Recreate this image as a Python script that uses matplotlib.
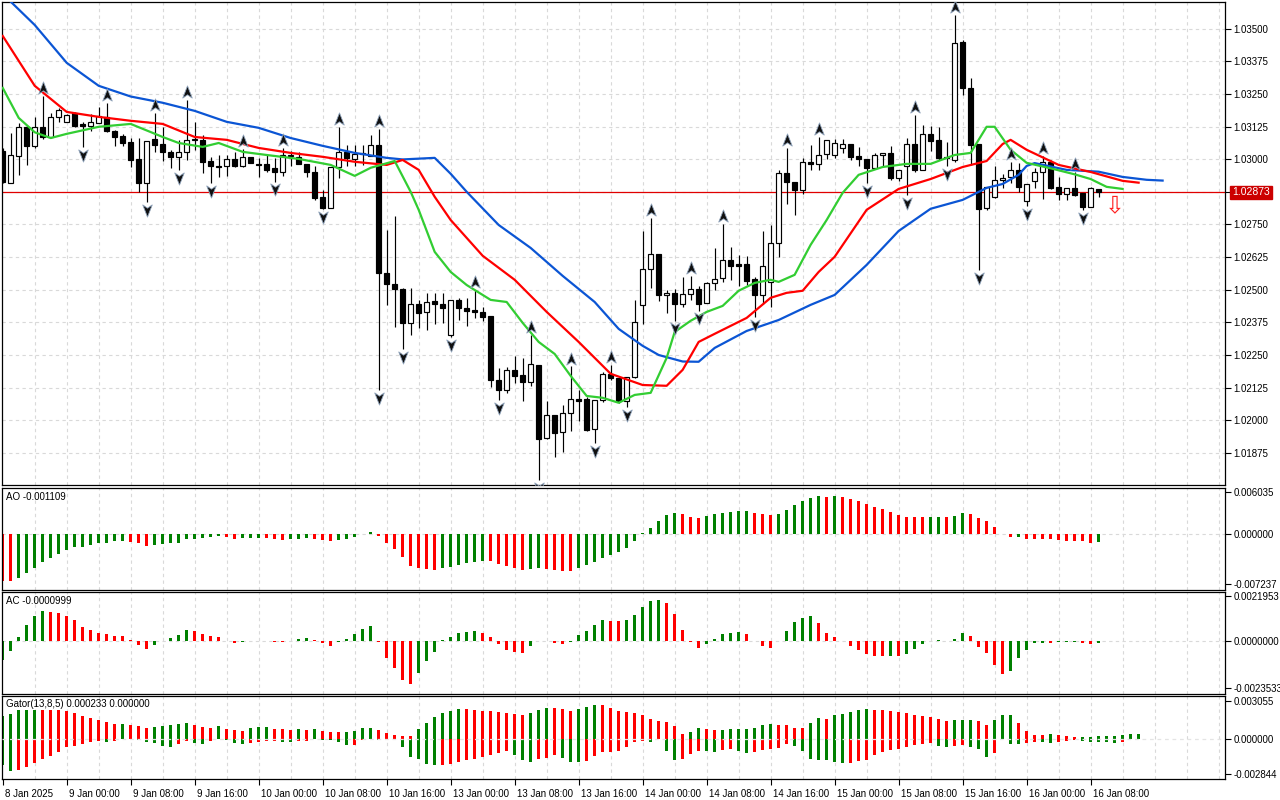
import numpy as np
import matplotlib
matplotlib.use("Agg")
import matplotlib.pyplot as plt
from matplotlib.path import Path
from matplotlib.transforms import blended_transform_factory, ScaledTranslation

plt.rcParams['font.family'] = ['Liberation Sans', 'DejaVu Sans']

# ---------------- data ----------------
time_tick_index = list(range(0, 137, 8))
time_tick_labels = ["8 Jan 2025", "9 Jan 00:00", "9 Jan 08:00", "9 Jan 16:00",
                    "10 Jan 00:00", "10 Jan 08:00", "10 Jan 16:00", "13 Jan 00:00",
                    "13 Jan 08:00", "13 Jan 16:00", "14 Jan 00:00", "14 Jan 08:00",
                    "14 Jan 16:00", "15 Jan 00:00", "15 Jan 08:00", "15 Jan 16:00",
                    "16 Jan 00:00", "16 Jan 08:00"]
price_ticks = [1.01875, 1.02000, 1.02125, 1.02250, 1.02375, 1.02500, 1.02625,
               1.02750, 1.02875, 1.03000, 1.03125, 1.03250, 1.03375, 1.03500]

# prices in points (1e-5)
open_pts = [103032,102910,103012,103124,103051,103124,103085,103162,103143,103177,
            103135,103127,103139,103162,103108,103089,103066,103001,102909,103078,
            103058,103028,103009,103028,103074,103074,102993,102974,102972,103001,
            102974,103010,102980,102982,102967,102952,103012,103010,102982,102952,
            102857,102813,102970,103029,103001,103020,103014,103055,102564,102522,
            102503,102373,102446,102415,102455,102446,102327,102461,102430,102423,
            102415,102400,102155,102116,102193,102174,102148,102212,101933,102021,
            101955,102028,102082,102082,101967,102078,102178,102162,102072,102167,
            102442,102580,102637,102480,102488,102446,102484,102503,102450,102526,
            102545,102614,102599,102599,102541,102480,102531,102679,102947,102913,
            102882,102991,102982,103020,103016,103043,103058,103012,103001,102968,
            103016,103024,102929,102972,103058,102959,103097,103074,103010,102995,
            103450,103273,103058,102813,102856,102921,102931,102959,102838,102917,
            102949,102991,102893,102866,102890,102871,102818,102886]
high_pts = [103043,103101,103139,103131,103162,103242,103177,103196,103173,103181,
            103143,103173,103200,103216,103112,103097,103081,103081,103070,103177,
            103124,103036,103074,103227,103143,103093,103010,103016,103016,103029,
            103039,103010,103003,103016,103005,103043,103032,103029,102982,102974,
            102882,102970,103124,103055,103055,103055,103093,103116,102729,102783,
            102507,102507,102461,102488,102488,102489,102461,102469,102469,102499,
            102435,102400,102201,102204,102247,102239,102327,102212,102072,102021,
            102059,102206,102116,102090,102078,102185,102212,102162,102167,102461,
            102725,102776,102637,102499,102503,102549,102554,102515,102531,102660,
            102752,102665,102633,102631,102550,102725,102746,102959,103043,102913,
            103005,103055,103085,103074,103078,103078,103058,103048,103001,103024,
            103024,103051,102959,103081,103170,103131,103127,103124,103064,103553,
            103457,103311,103058,102894,102972,102944,102991,102986,102905,102967,
            103012,102997,102933,102890,102952,102871,102893,102886]
low_pts = [102909,102909,102940,102978,103043,103078,103081,103143,103143,103124,
           103047,103108,103139,103104,103051,103051,102970,102875,102836,103028,
           102993,102967,102959,102997,103036,102947,102908,102933,102936,102970,
           102970,102987,102932,102952,102914,102936,102972,102982,102932,102844,
           102808,102813,102928,102972,102974,102978,103012,102116,102442,102358,
           102273,102327,102355,102346,102369,102373,102319,102384,102361,102392,
           102382,102128,102078,102105,102143,102072,102133,101772,101929,101860,
           101879,101960,101999,101960,101913,102070,102155,102066,102052,102162,
           102369,102507,102455,102411,102382,102435,102461,102420,102450,102497,
           102531,102538,102516,102518,102396,102446,102435,102627,102829,102787,
           102867,102959,102959,103001,103005,103024,102995,102972,102909,102963,
           102972,102921,102918,102863,102951,102959,103033,102997,102972,102990,
           103246,102978,102576,102806,102852,102890,102909,102876,102821,102890,
           102848,102886,102844,102844,102859,102806,102818,102856]
close_pts = [102913,103016,103124,103051,103124,103085,103162,103189,103170,103127,
             103127,103143,103166,103108,103085,103062,102997,102909,103070,103055,
             103028,103009,103028,103074,103078,102990,102972,102970,103001,102974,
             103010,102987,102976,102959,102952,103016,103016,102982,102949,102851,
             102812,102970,103029,103005,103020,103024,103055,102564,102522,102503,
             102373,102446,102412,102453,102446,102430,102461,102430,102420,102416,
             102397,102155,102114,102193,102170,102148,102216,101929,102021,101953,
             102028,102082,102075,101963,102078,102178,102162,102072,102167,102378,
             102580,102637,102480,102488,102446,102484,102503,102446,102526,102541,
             102614,102592,102592,102535,102480,102589,102679,102947,102913,102882,
             102991,102982,103016,103074,103062,103058,103010,103001,102968,103016,
             103024,102929,102959,103058,102959,103097,103071,103005,103005,103445,
             103273,103055,102810,102893,102921,102929,102959,102893,102905,102952,
             102991,102890,102866,102890,102863,102818,102889,102873]

# Alligator lines (points), read at the given bar indices
jaw_idx = [0,4,8,12,16,20,24,28,32,36,40,44,48,50,54,56,58,62,66,70,74,77,80,82,85,87,89,93,
           97,101,104,108,112,116,120,123,125,127,128,129,131,133,137,140,143,145]
jaw_pts = [103633,103514,103369,103281,103240,103216,103185,103143,103120,103081,103051,103024,
           103005,102999,103005,102944,102875,102748,102660,102553,102453,102350,102285,102250,
           102225,102224,102277,102342,102384,102442,102480,102595,102725,102810,102844,102890,
           102905,102940,102974,102985,102972,102959,102952,102932,102921,102918]
teeth_idx = [0,4,8,12,16,20,24,28,32,36,40,44,48,50,52,54,56,60,64,68,72,76,80,83,85,87,89,93,
             96,98,100,102,104,108,112,116,120,123,125,126,128,132,136,140,142]
teeth_pts = [103472,103281,103181,103162,103147,103135,103085,103074,103043,103024,103009,102990,
             102978,102997,102959,102856,102767,102630,102538,102415,102300,102178,102135,102132,
             102193,102300,102331,102392,102469,102488,102496,102568,102626,102806,102886,102924,
             102970,102993,103058,103074,103036,102978,102951,102917,102910]
lips_idx = [0,2,4,6,8,12,16,20,22,25,27,30,33,37,41,44,46,49,51,52,54,56,58,61,63,65,67,69,71,73,
            75,77,79,81,83,84,86,88,90,92,94,96,97,99,101,103,105,107,110,113,116,119,121,123,124,
            126,128,131,134,136,138,140]
lips_pts = [103273,103158,103103,103081,103097,103124,103135,103085,103062,103047,103062,103028,
            103016,103001,102978,102936,102967,102993,102875,102806,102645,102568,102518,102461,
            102453,102373,102300,102254,102170,102093,102086,102067,102097,102105,102239,102338,
            102381,102415,102438,102496,102526,102538,102530,102557,102672,102767,102871,102940,
            102970,102982,102982,103016,103024,103124,103124,103036,102986,102965,102942,102924,
            102894,102886]

up_fractals = [5,13,19,23,30,35,42,47,59,66,71,76,81,86,90,98,102,114,119,126,130,134]
down_fractals = [10,18,22,26,34,40,47,50,56,62,67,74,78,84,87,94,108,113,118,122,128,135]
signal_idx = 139
signal_price = 1.02823

# AO (1e-6)
ao_u = [-6760,-6800,-6280,-5600,-4830,-3960,-3380,-2800,-2220,-1840,
        -1820,-1500,-1350,-1210,-1060,-1040,-1110,-1350,-1640,-1500,
        -1480,-1350,-1210,-770,-630,-530,-480,-290,-480,-630,
        -610,-590,-570,-620,-770,-790,-760,-630,-610,-630,
        -870,-1010,-870,-770,-480,-50,340,-290,-1210,-2080,
        -3280,-4590,-4830,-4970,-5120,-4830,-4730,-4440,-4150,-4010,
        -3860,-3900,-4300,-4590,-4830,-5120,-4970,-4950,-4990,-5120,
        -5260,-5280,-4830,-4440,-3960,-3380,-2990,-2510,-1980,-1060,
        100,920,1930,2800,3090,2950,2510,2370,2660,2950,
        3090,3140,3330,3380,3090,2950,2800,2950,3530,4250,
        4830,5260,5550,5410,5560,5410,5120,4830,4400,3960,
        3670,3240,2800,2510,2500,2490,2510,2520,2500,2660,
        3090,2950,2370,1930,1060,30,-480,-460,-630,-640,
        -650,-770,-780,-920,-930,-1060,-1210,-1109]
# AC (1e-7)
ac_u = [-9400,-5000,2000,7900,12100,14600,14100,13600,12100,10100,
        6600,5500,4000,3500,2500,2400,500,-2000,-4000,-2000,
        -300,1500,3000,5500,5000,3500,2500,2000,-200,-1300,
        -800,-300,-100,-200,-400,-800,0,1000,1100,500,
        -1300,-2400,-800,1000,3500,6000,7100,-500,-8400,-13600,
        -19200,-21500,-16000,-9900,-5400,200,2000,4000,4500,4600,
        4000,2000,-1800,-4400,-5400,-5900,-2400,-200,-100,-1300,
        -1800,-800,3000,5000,7600,10100,9900,9600,10100,12600,
        16600,19700,20200,18600,13100,5500,-800,-3400,-1800,1000,
        3500,4000,4100,3500,-200,-2400,-3400,-200,5000,9100,
        11100,12100,8600,4000,2000,-300,-2400,-4400,-6400,-7400,
        -7500,-7400,-7600,-6400,-3900,-1800,-200,500,-200,1000,
        4000,2500,-2900,-5900,-11900,-16500,-15000,-8400,-4400,-1300,
        -1000,-1300,-800,-700,-600,-1300,-1800,-999]
# Gator (1e-6)
gator_up_u = [1782,1995,2314,2322,2330,2325,2314,2301,2234,2075,
              1782,1623,1463,1357,1197,1210,1117,984,878,931,
              984,1064,1144,1277,1091,931,878,984,798,665,
              585,825,904,918,745,732,665,745,665,745,
              638,559,505,519,585,825,838,665,426,266,
              186,173,745,1224,1702,2101,2261,2421,2407,2341,
              2261,2248,2181,2101,1942,1862,2022,2341,2500,2487,
              2421,2261,2421,2580,2740,2727,2500,2261,2181,2101,
              1862,1543,1383,1303,984,346,505,825,745,665,
              678,745,758,771,825,1064,1144,1131,1064,825,
              811,1224,1623,1596,1915,1995,2155,2341,2421,2341,
              2328,2261,2181,2022,1862,1782,1702,1543,1383,1463,
              1476,1490,1383,1064,1463,1862,1875,1224,585,266,
              253,346,266,186,106,120,133,186,200,213,
              266,346,359]
gator_down_u = [-2155,-2607,-2527,-2288,-1942,-1649,-1410,-1091,-665,-585,
                -426,-266,-213,-266,-239,-80,-27,-106,-266,-346,
                -585,-665,-426,-213,-346,-426,-213,-53,-133,-346,
                -426,-346,-266,-213,-200,-266,-279,-239,-186,-80,
                -93,-133,-266,-505,-492,-133,-80,-93,-27,-133,
                -665,-1463,-1623,-2022,-2181,-2101,-2022,-1862,-1702,-1623,
                -1463,-1303,-1144,-984,-1303,-1702,-1862,-1623,-1543,-1303,
                -1543,-1862,-1875,-1782,-1383,-1064,-1051,-984,-665,-266,
                -186,-266,-53,-984,-1702,-1623,-1224,-984,-998,-1064,
                -904,-825,-984,-1144,-1091,-958,-878,-745,-479,-612,
                -1011,-1623,-1702,-1756,-1862,-1968,-1942,-1782,-1702,-1303,
                -1064,-904,-825,-665,-505,-426,-399,-585,-665,-585,
                -505,-665,-825,-1463,-1144,-53,-426,-452,-346,-266,
                -293,-346,-266,-186,-160,-213,-266,-293,-319,-333,
                -266]

ao_scale = (-0.007237, 0.006035)
ac_scale = (-0.0023533, 0.0021953)
gator_scale = (-0.002844, 0.003055)

# ---------------- styling constants ----------------
W, H = 1280, 800
GREEN = '#008000'
RED = '#FF0000'
GRID = '#D9D9D9'
X0, X1 = -0.09, 152.8
FS = 7

o = np.array(open_pts) / 1e5
h = np.array(high_pts) / 1e5
l = np.array(low_pts) / 1e5
c = np.array(close_pts) / 1e5
n = len(o)
x = np.arange(n)

fig = plt.figure(figsize=(W / 100, H / 100), dpi=100)
fig.patch.set_facecolor('white')


def add_axes(top, bottom, left=2, right=1225):
    return fig.add_axes([left / W, 1 - bottom / H, (right - left) / W, (bottom - top) / H])


ax = add_axes(2, 485)
ax_ao = add_axes(488, 590)
ax_ac = add_axes(592, 694)
ax_gt = add_axes(696, 779)


def frame(a):
    a.set_xlim(X0, X1)
    for s in a.spines.values():
        s.set_linewidth(0.9)
        s.set_color('black')
    a.yaxis.tick_right()
    a.tick_params(axis='y', direction='out', length=4, width=0.8, pad=2, labelsize=FS, colors='black')
    a.tick_params(axis='x', direction='out', length=4, width=0.8, labelsize=FS)
    for gx in range(4, 153, 4):
        a.axvline(gx, color=GRID, lw=0.8, ls=(0, (3, 3)), zorder=0)


for a in (ax, ax_ao, ax_ac, ax_gt):
    frame(a)

# ---------------- main chart ----------------
ax.set_ylim(1.01752, 1.03602)
for p in price_ticks:
    ax.axhline(p, color=GRID, lw=0.8, ls=(0, (3, 3)), zorder=0)
ax.set_yticks(price_ticks)
# the tick label next to the last price is hidden behind the price box
ax.set_yticklabels(['' if abs(p - c[-1]) < 0.0003 else f'{p:.5f}' for p in price_ticks])
ax.set_xticks([])

ax.axhline(c[-1], color='#E00000', lw=0.9, zorder=2)

ax.vlines(x, l, h, color='black', lw=0.85, zorder=3)
bull = c >= o
ax.bar(x[bull], (c - o)[bull], bottom=o[bull], width=0.62, facecolor='white',
       edgecolor='black', linewidth=0.85, zorder=4)
ax.bar(x[~bull], (o - c)[~bull], bottom=c[~bull], width=0.62, facecolor='black',
       edgecolor='black', linewidth=0.85, zorder=4)

ax.plot(jaw_idx, np.array(jaw_pts) / 1e5, color='#0B55D4', lw=1.6, zorder=5)
ax.plot(teeth_idx, np.array(teeth_pts) / 1e5, color='#FF0000', lw=1.6, zorder=5)
ax.plot(lips_idx, np.array(lips_pts) / 1e5, color='#32CD32', lw=1.6, zorder=5)

verts = [(0, 1), (0.72, -0.85), (0, -0.35), (-0.72, -0.85), (0, 1)]
codes = [Path.MOVETO, Path.LINETO, Path.LINETO, Path.LINETO, Path.CLOSEPOLY]
up_marker = Path(verts, codes)
down_marker = Path([(vx, -vy) for vx, vy in verts], codes)
ax.plot(up_fractals, h[up_fractals] + 0.0003, ls='none', marker=up_marker, ms=9.5,
        mfc='#101010', mec='#8fa3bb', mew=0.6, zorder=6)
ax.plot(down_fractals, l[down_fractals] - 0.0003, ls='none', marker=down_marker, ms=9.5,
        mfc='#101010', mec='#8fa3bb', mew=0.6, zorder=6)

ax.text(signal_idx, signal_price, '\u21e9', color='#FF2020', fontsize=17, ha='center',
        va='center', family='DejaVu Sans', zorder=7)

btr = blended_transform_factory(ax.transAxes, ax.transData)
ax.text(1.0058, c[-1], f'{c[-1]:.5f}', transform=btr, ha='left', va='center', color='white',
        fontsize=7.5, zorder=10, clip_on=False,
        bbox=dict(boxstyle='square,pad=0.16', fc='#CC0000', ec='#CC0000'))


# ---------------- oscillators ----------------
def trend_colors(vals, first, magnitude=False):
    v = np.abs(vals) if magnitude else np.asarray(vals)
    cols = [first]
    for a, b in zip(v[:-1], v[1:]):
        cols.append(GREEN if b > a else RED)
    return cols


def osc_axis(a, scale, fmt, label):
    lo, hi = scale
    span = hi - lo
    # labels sit a few pixels inside the panel edges
    a.set_ylim(lo - span * 5.7 / 92, hi + span * 4.3 / 92)
    a.set_yticks([hi, 0, lo])
    a.set_yticklabels([fmt.format(hi), fmt.format(0.0), fmt.format(lo)])
    a.axhline(0, color=GRID, lw=0.8, ls=(0, (3, 3)), zorder=1)
    a.text(4 / 1223, 1 - 4 / 102, label, transform=a.transAxes, ha='left', va='top',
           fontsize=FS, color='black', zorder=10)


ao = np.array(ao_u) * 1e-6
ac = np.array(ac_u) * 1e-7
gu = np.array(gator_up_u) * 1e-6
gd = np.array(gator_down_u) * 1e-6

ax_ao.bar(np.arange(len(ao)), ao, width=0.44, color=trend_colors(ao, RED), lw=0, zorder=2)
osc_axis(ax_ao, ao_scale, '{:.6f}', f'AO {ao[-1]:.6f}')
ax_ao.set_xticks([])

ax_ac.bar(np.arange(len(ac)), ac, width=0.44, color=trend_colors(ac, GREEN), lw=0, zorder=2)
osc_axis(ax_ac, ac_scale, '{:.7f}', f'AC {ac[-1]:.7f}')
ax_ac.set_xticks([])

ax_gt.bar(np.arange(len(gu)), gu, width=0.44, color=trend_colors(gu, GREEN), lw=0, zorder=2)
ax_gt.bar(np.arange(len(gd)), gd, width=0.44, color=trend_colors(gd, GREEN, True), lw=0, zorder=2)
lo, hi = gator_scale
span = hi - lo
ax_gt.set_ylim(lo - span * 5.3 / 73, hi + span * 4.7 / 73)
ax_gt.set_yticks([hi, 0, lo])
ax_gt.set_yticklabels([f'{hi:.6f}', f'{0.0:.6f}', f'{lo:.6f}'])
ax_gt.axhline(0, color='#E4E4E4', lw=0.9, ls=(0, (3, 3)), zorder=3)
ax_gt.text(4 / 1223, 1 - 3 / 83, 'Gator(13,8,5) 0.000233 0.000000', transform=ax_gt.transAxes,
           ha='left', va='top', fontsize=FS, color='black', zorder=10)

ax_gt.set_xticks(time_tick_index)
ax_gt.set_xticklabels(time_tick_labels)
shift = ScaledTranslation(2 / 100, 0, fig.dpi_scale_trans)
for lab in ax_gt.get_xticklabels():
    lab.set_horizontalalignment('left')
    lab.set_transform(lab.get_transform() + shift)

fig.savefig('out.png', dpi=100, facecolor='white')
